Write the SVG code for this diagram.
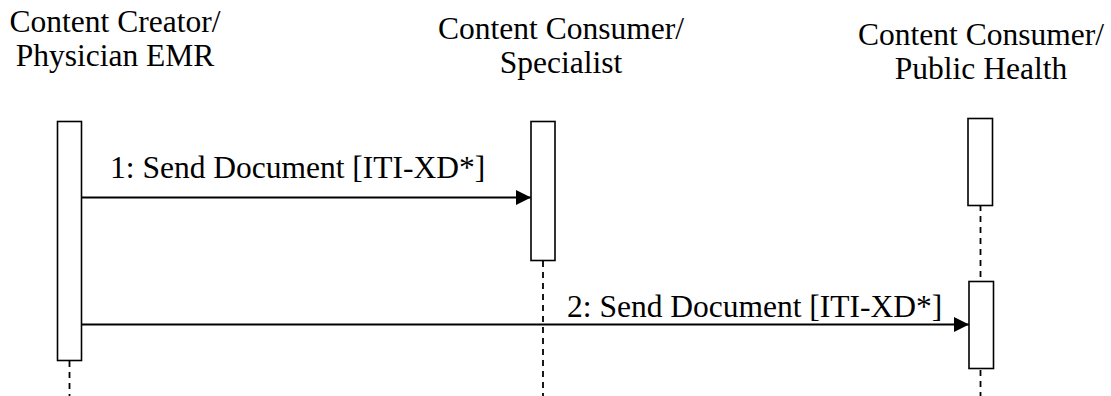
<svg xmlns="http://www.w3.org/2000/svg" width="1111" height="396" viewBox="0 0 1111 396">
<style>
text{font-family:"Liberation Serif","DejaVu Serif",serif;font-size:31.5px;fill:#000;}
.act{fill:#fff;stroke:#000;stroke-width:1.6;}
.life{stroke:#000;stroke-width:1.8;stroke-dasharray:6,5;fill:none;}
.msg{stroke:#000;stroke-width:2.2;fill:none;marker-end:url(#arr);}
</style>
<defs>
<marker id="arr" markerUnits="userSpaceOnUse" markerWidth="16" markerHeight="16" refX="15" refY="8" orient="auto">
<path d="M0,0.5 L15,8 L0,15.5 Z" fill="#000"/>
</marker>
</defs>
<g id="creator">
<text x="115" y="32" text-anchor="middle">Content Creator/</text>
<text x="115" y="66" text-anchor="middle">Physician EMR</text>
<line class="life" x1="69.5" y1="361" x2="69.5" y2="396"/>
<rect class="act" x="57.5" y="121.5" width="24" height="239"/>
</g>
<g id="specialist">
<text x="561" y="39" text-anchor="middle">Content Consumer/</text>
<text x="561" y="73" text-anchor="middle">Specialist</text>
<line class="life" x1="543" y1="261" x2="543" y2="396"/>
<rect class="act" x="531" y="121.5" width="24" height="139"/>
</g>
<g id="publichealth">
<text x="981" y="45" text-anchor="middle">Content Consumer/</text>
<text x="981" y="79" text-anchor="middle">Public Health</text>
<line class="life" x1="980.5" y1="205" x2="980.5" y2="396"/>
<rect class="act" x="968" y="118.5" width="24.5" height="87"/>
<rect class="act" x="969" y="281.5" width="24.5" height="87"/>
</g>
<g id="connectors">
<line class="msg" x1="82" y1="197.5" x2="531" y2="197.5"/>
<text x="110" y="178">1: Send Document [ITI-XD*]</text>
<line class="msg" x1="82" y1="324.5" x2="969" y2="324.5"/>
<text x="567" y="317">2: Send Document [ITI-XD*]</text>
</g>
</svg>
